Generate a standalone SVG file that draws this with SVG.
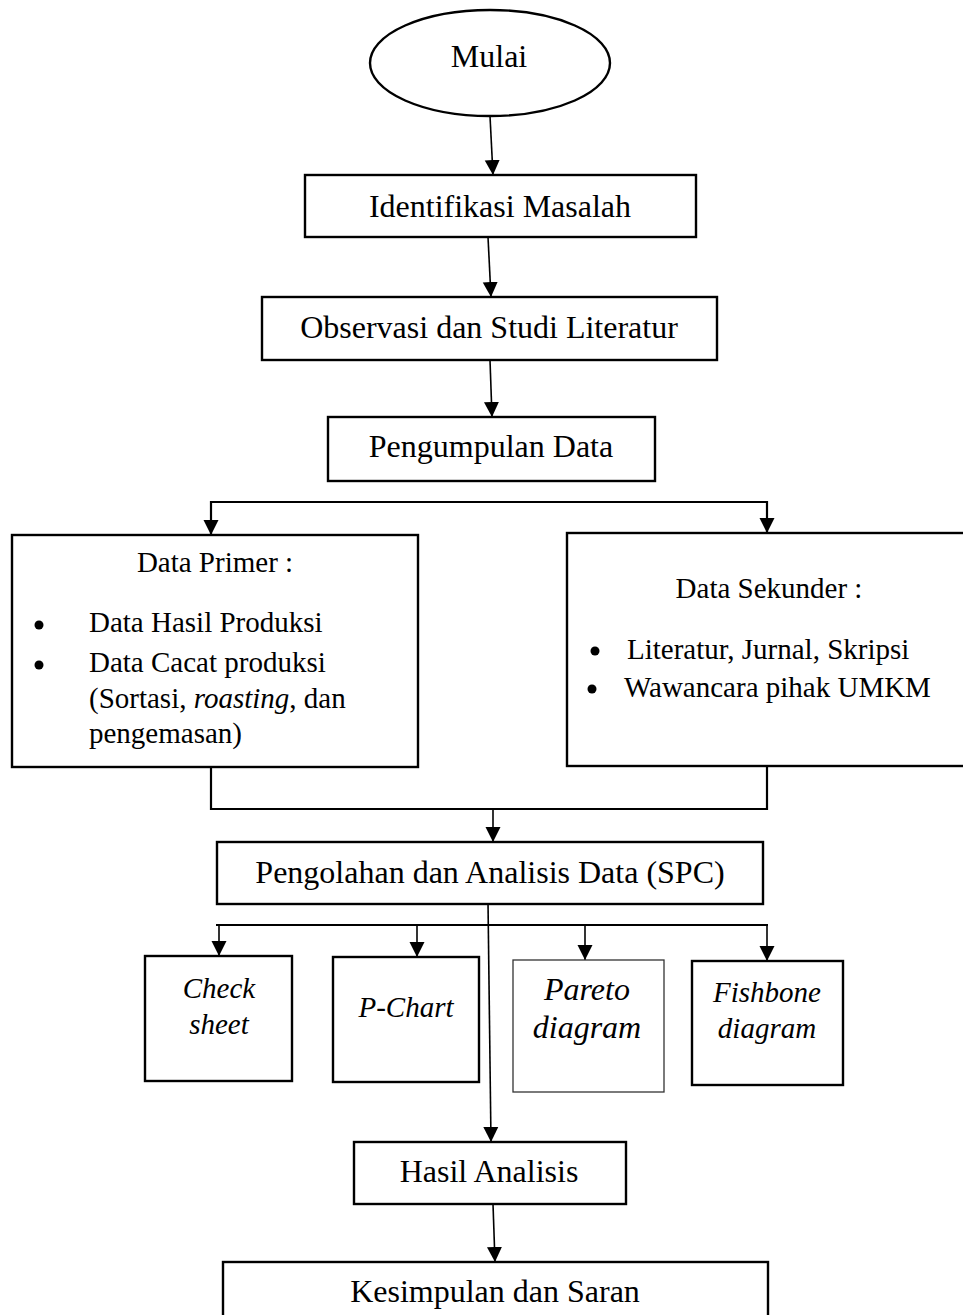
<svg xmlns="http://www.w3.org/2000/svg" width="963" height="1315" viewBox="0 0 963 1315">
<defs>
<style>
.box{fill:#fff;stroke:#000;stroke-width:2.4}
.thin{fill:#fff;stroke:#333;stroke-width:1.3}
.t{font-family:"Liberation Serif","Times New Roman",serif;font-size:32px;fill:#000}
.s{font-family:"Liberation Serif","Times New Roman",serif;font-size:29px;fill:#000}
.i{font-style:italic}
.c{text-anchor:middle}
.ln{fill:none;stroke:#000;stroke-width:1.6}
.hl{fill:none;stroke:#000;stroke-width:2.2}
</style>
<marker id="ah" markerUnits="userSpaceOnUse" markerWidth="16" markerHeight="16" viewBox="0 0 16 16" refX="15" refY="8" orient="auto">
<path d="M0,0.5 L15,8 L0,15.5 Z" fill="#000"/>
</marker>
</defs>
<g id="connectors">
<line class="ln" x1="490" y1="116" x2="493" y2="175" marker-end="url(#ah)"/>
<line class="ln" x1="488" y1="237" x2="491" y2="297" marker-end="url(#ah)"/>
<line class="ln" x1="490" y1="360" x2="492" y2="417" marker-end="url(#ah)"/>
<polyline class="hl" points="211,535 211,502 767,502 767,533"/>
<line class="ln" x1="211" y1="515" x2="211" y2="535" marker-end="url(#ah)"/>
<line class="ln" x1="767" y1="515" x2="767" y2="533" marker-end="url(#ah)"/>
<polyline class="hl" points="211,767 211,809 767,809 767,766"/>
<line class="ln" x1="493" y1="809" x2="493" y2="842" marker-end="url(#ah)"/>
<line class="hl" x1="216" y1="925" x2="768" y2="925"/>
<line class="ln" x1="219" y1="925" x2="219" y2="956" marker-end="url(#ah)"/>
<line class="ln" x1="417" y1="925" x2="417" y2="957" marker-end="url(#ah)"/>
<line class="ln" x1="585" y1="925" x2="585" y2="960" marker-end="url(#ah)"/>
<line class="ln" x1="767" y1="925" x2="767" y2="961" marker-end="url(#ah)"/>
<line class="ln" x1="488" y1="902" x2="491" y2="1142" marker-end="url(#ah)"/>
<line class="ln" x1="493" y1="1204" x2="495" y2="1262" marker-end="url(#ah)"/>
</g>
<g id="mulai">
<ellipse class="box" cx="490" cy="63" rx="120" ry="53"/>
<text class="t c" x="489" y="67">Mulai</text>
</g>
<g id="identifikasi">
<rect class="box" x="305" y="175" width="391" height="62"/>
<text class="t c" x="500" y="217">Identifikasi Masalah</text>
</g>
<g id="observasi">
<rect class="box" x="262" y="297" width="455" height="63"/>
<text class="t c" x="489" y="338">Observasi dan Studi Literatur</text>
</g>
<g id="pengumpulan">
<rect class="box" x="328" y="417" width="327" height="64"/>
<text class="t c" x="491" y="457">Pengumpulan Data</text>
</g>
<g id="primer">
<rect class="box" x="12" y="535" width="406" height="232"/>
<text class="s c" x="215" y="572">Data Primer :</text>
<circle cx="39" cy="625" r="4.5"/>
<circle cx="39" cy="665" r="4.5"/>
<text class="s" x="89" y="632">Data Hasil Produksi</text>
<text class="s" x="89" y="672">Data Cacat produksi</text>
<text class="s" x="89" y="708">(Sortasi, <tspan class="i">roasting</tspan>, dan</text>
<text class="s" x="89" y="743">pengemasan)</text>
</g>
<g id="sekunder">
<rect class="box" x="567" y="533" width="400" height="233"/>
<text class="s c" x="769" y="598">Data Sekunder :</text>
<circle cx="595" cy="651" r="4.5"/>
<circle cx="592" cy="689" r="4.5"/>
<text class="s" x="627" y="659">Literatur, Jurnal, Skripsi</text>
<text class="s" x="624" y="697">Wawancara pihak UMKM</text>
</g>
<g id="pengolahan">
<rect class="box" x="217" y="842" width="546" height="62"/>
<text class="t c" x="490" y="883">Pengolahan dan Analisis Data (SPC)</text>
</g>
<g id="checksheet">
<rect class="box" x="145" y="956" width="147" height="125"/>
<text class="s i c" x="219" y="998">Check</text>
<text class="s i c" x="219" y="1034">sheet</text>
</g>
<g id="pchart">
<rect class="box" x="333" y="957" width="146" height="125"/>
<text class="s i c" x="406" y="1017">P-Chart</text>
</g>
<g id="pareto">
<rect class="thin" x="513" y="960" width="151" height="132"/>
<text class="t i c" x="587" y="1000">Pareto</text>
<text class="t i c" x="587" y="1038">diagram</text>
</g>
<g id="fishbone">
<rect class="box" x="692" y="961" width="151" height="124"/>
<text class="s i c" x="767" y="1002">Fishbone</text>
<text class="s i c" x="767" y="1038">diagram</text>
</g>
<g id="hasil">
<rect class="box" x="354" y="1142" width="272" height="62"/>
<text class="t c" x="489" y="1182">Hasil Analisis</text>
</g>
<g id="kesimpulan">
<rect class="box" x="223" y="1262" width="545" height="70"/>
<text class="t c" x="495" y="1302">Kesimpulan dan Saran</text>
</g>
</svg>
